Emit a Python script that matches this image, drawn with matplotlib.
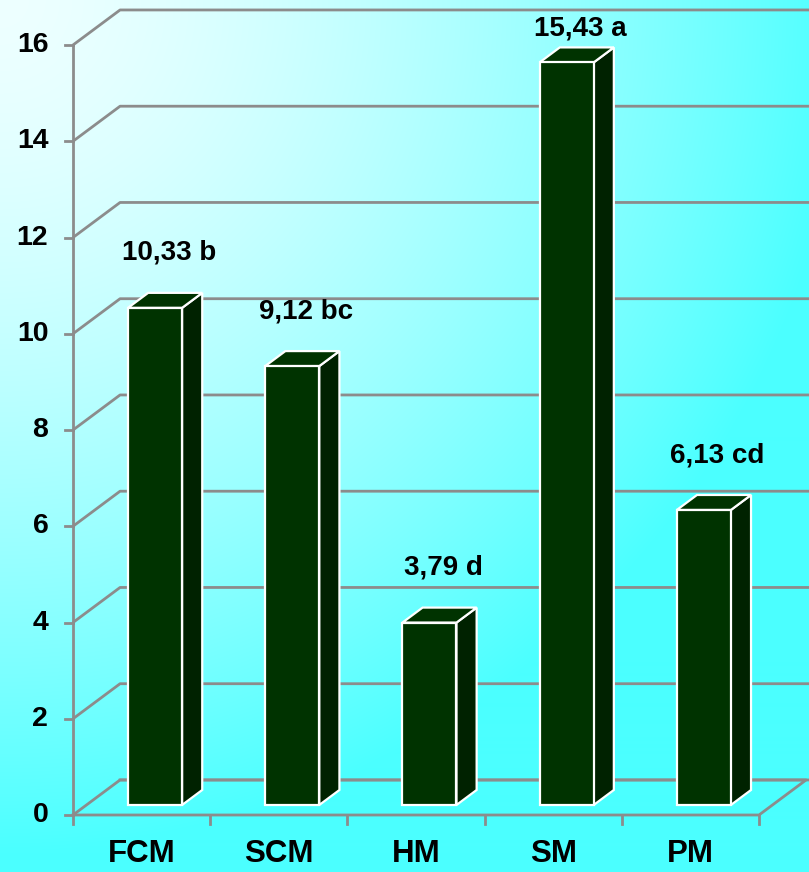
import numpy as np
import matplotlib
matplotlib.use("Agg")
import matplotlib.pyplot as plt
from matplotlib.patches import Polygon

# данные
categories = ["FCM", "SCM", "HM", "SM", "PM"]
values = [10.33, 9.12, 3.79, 15.43, 6.13]
letters = ["b", "bc", "d", "a", "cd"]
yticks = [0, 2, 4, 6, 8, 10, 12, 14, 16]

# псевдо-3D параметры (в единицах данных)
DX, DY = 0.343, 0.728      # глубина стенки
F0, F1 = 0.286, 0.714      # передняя / задняя грань столбика
BAR_W = 0.394

plt.rcParams['font.family'] = ['Liberation Sans', 'DejaVu Sans']

fig = plt.figure(figsize=(8.09, 8.72), dpi=100)
ax = fig.add_axes([0, 0, 1, 1])
xmin, xmax = -73 / 137.2, (809 - 73) / 137.2
ymin, ymax = -(872 - 815) / 48.125, 815 / 48.125
ax.set_xlim(xmin, xmax)
ax.set_ylim(ymin, ymax)
ax.axis('off')

# фон - радиальный градиент от левого верхнего угла
h, w = 872, 809
yy, xx = np.mgrid[0:h, 0:w]
r = np.sqrt(xx ** 2 + yy ** 2)
t = np.clip((r / 850) ** 1.5, 0, 1)
img = np.zeros((h, w, 3))
img[..., 0] = (238 - 163 * t) / 255
img[..., 1] = 1.0
img[..., 2] = 1.0
ax.imshow(img, extent=[xmin, xmax, ymin, ymax], aspect='auto', zorder=0)

grid_c = '#8c8c8c'
n = len(categories)

# сетка на задней стенке
for v in yticks:
    ax.plot([0, DX, xmax + 0.1], [v, v + DY, v + DY], color=grid_c, lw=2, zorder=1,
            solid_capstyle='butt')
    ax.plot([-0.058, 0], [v, v], color=grid_c, lw=2, zorder=1)
    ax.text(-0.18, v, str(v), ha='right', va='center', fontsize=20.5, fontweight='bold')

# пол и оси
ax.plot([0, 0], [0, yticks[-1]], color=grid_c, lw=2, zorder=1)
ax.plot([0, n, n + DX, DX], [0, 0, DY, DY], color=grid_c, lw=2, zorder=1)
for i in range(n + 1):
    ax.plot([i, i], [0, -0.19], color=grid_c, lw=2, zorder=1)

# столбики
front_c, side_c, top_c = '#003300', '#002200', '#003300'
for i, (v, lab) in enumerate(zip(values, letters)):
    x0 = i + 0.5 - BAR_W / 2 + F0 * DX
    x1 = x0 + BAR_W
    y0 = F0 * DY
    ddx, ddy = (F1 - F0) * DX, (F1 - F0) * DY
    front = [(x0, y0), (x1, y0), (x1, y0 + v), (x0, y0 + v)]
    side = [(x1, y0), (x1 + ddx, y0 + ddy), (x1 + ddx, y0 + ddy + v), (x1, y0 + v)]
    top = [(x0, y0 + v), (x1, y0 + v), (x1 + ddx, y0 + v + ddy), (x0 + ddx, y0 + v + ddy)]
    for pts, fc in [(side, side_c), (top, top_c), (front, front_c)]:
        ax.add_patch(Polygon(pts, closed=True, facecolor=fc, edgecolor='white',
                             lw=1.6, joinstyle='miter', zorder=3))
    ly = min(v + 1.35, 16.35)
    ax.text((x0 + x1) / 2 + 0.1, ly, f"{v:.2f}".replace('.', ',') + " " + lab,
            ha='center', va='center', fontsize=20, fontweight='bold', zorder=4)

for i, c in enumerate(categories):
    ax.text(i + 0.5, -0.81, c, ha='center', va='center', fontsize=22.5, fontweight='bold')

fig.savefig("out.png", dpi=100)
